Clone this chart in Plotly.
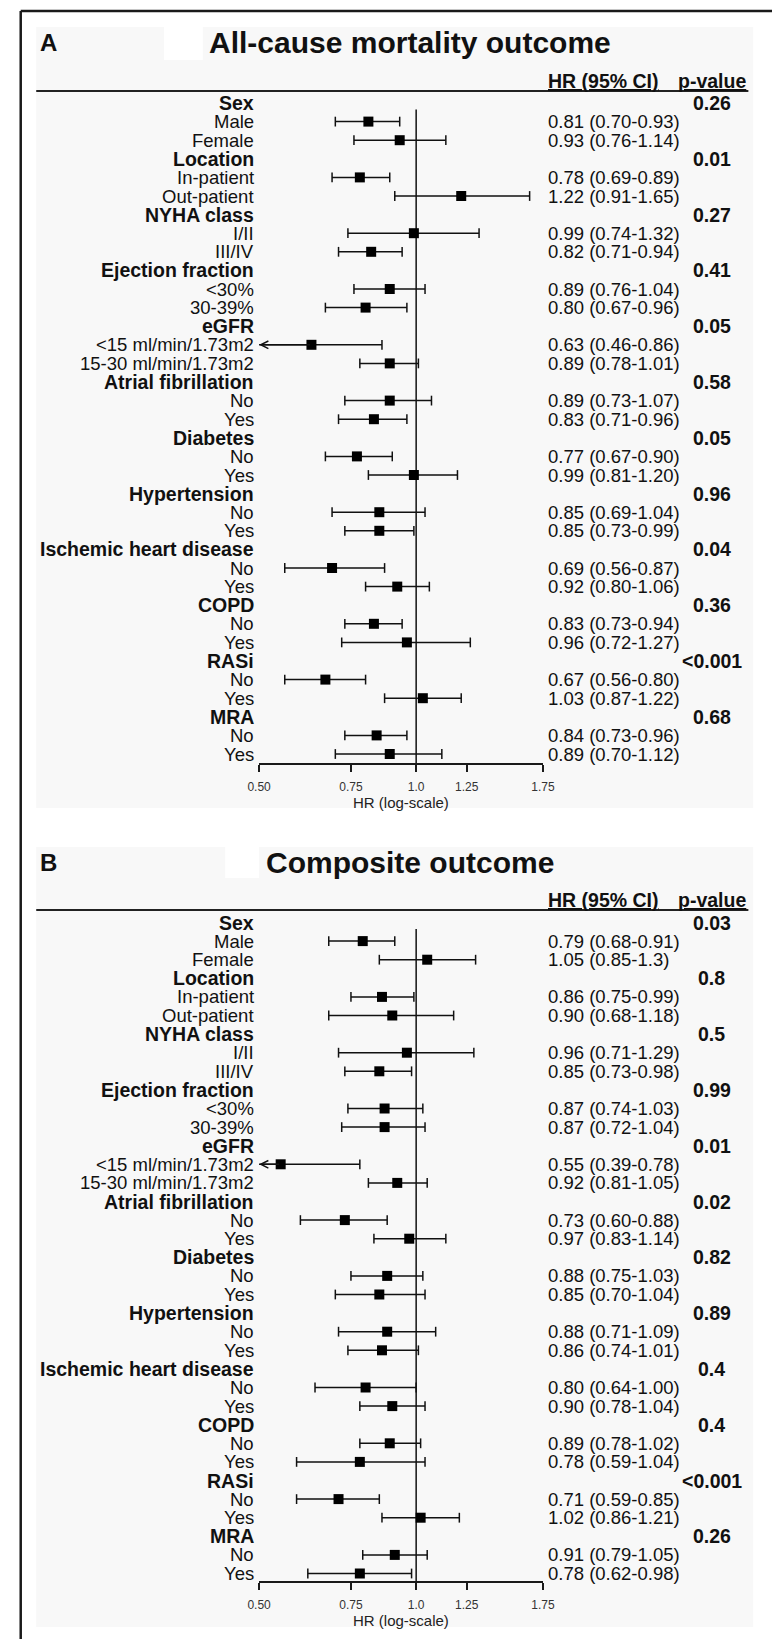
import numpy as np
import plotly.graph_objects as go

# ---------------- data ----------------
groups = ["Sex", "Location", "NYHA class", "Ejection fraction", "eGFR",
          "Atrial fibrillation", "Diabetes", "Hypertension",
          "Ischemic heart disease", "COPD", "RASi", "MRA"]
subgroups = [["Male", "Female"], ["In-patient", "Out-patient"], ["I/II", "III/IV"],
             ["<30%", "30-39%"], ["<15 ml/min/1.73m2", "15-30 ml/min/1.73m2"],
             ["No", "Yes"], ["No", "Yes"], ["No", "Yes"], ["No", "Yes"],
             ["No", "Yes"], ["No", "Yes"], ["No", "Yes"]]

# Panel A: all-cause mortality
hr_A = [0.81, 0.93, 0.78, 1.22, 0.99, 0.82, 0.89, 0.80, 0.63, 0.89, 0.89, 0.83,
        0.77, 0.99, 0.85, 0.85, 0.69, 0.92, 0.83, 0.96, 0.67, 1.03, 0.84, 0.89]
lo_A = [0.70, 0.76, 0.69, 0.91, 0.74, 0.71, 0.76, 0.67, 0.46, 0.78, 0.73, 0.71,
        0.67, 0.81, 0.69, 0.73, 0.56, 0.80, 0.73, 0.72, 0.56, 0.87, 0.73, 0.70]
hi_A = [0.93, 1.14, 0.89, 1.65, 1.32, 0.94, 1.04, 0.96, 0.86, 1.01, 1.07, 0.96,
        0.90, 1.20, 1.04, 0.99, 0.87, 1.06, 0.94, 1.27, 0.80, 1.22, 0.96, 1.12]
ci_text_A = ["0.81 (0.70-0.93)", "0.93 (0.76-1.14)", "0.78 (0.69-0.89)", "1.22 (0.91-1.65)",
             "0.99 (0.74-1.32)", "0.82 (0.71-0.94)", "0.89 (0.76-1.04)", "0.80 (0.67-0.96)",
             "0.63 (0.46-0.86)", "0.89 (0.78-1.01)", "0.89 (0.73-1.07)", "0.83 (0.71-0.96)",
             "0.77 (0.67-0.90)", "0.99 (0.81-1.20)", "0.85 (0.69-1.04)", "0.85 (0.73-0.99)",
             "0.69 (0.56-0.87)", "0.92 (0.80-1.06)", "0.83 (0.73-0.94)", "0.96 (0.72-1.27)",
             "0.67 (0.56-0.80)", "1.03 (0.87-1.22)", "0.84 (0.73-0.96)", "0.89 (0.70-1.12)"]
p_A = ["0.26", "0.01", "0.27", "0.41", "0.05", "0.58", "0.05", "0.96", "0.04", "0.36", "<0.001", "0.68"]

# Panel B: composite outcome
hr_B = [0.79, 1.05, 0.86, 0.90, 0.96, 0.85, 0.87, 0.87, 0.55, 0.92, 0.73, 0.97,
        0.88, 0.85, 0.88, 0.86, 0.80, 0.90, 0.89, 0.78, 0.71, 1.02, 0.91, 0.78]
lo_B = [0.68, 0.85, 0.75, 0.68, 0.71, 0.73, 0.74, 0.72, 0.39, 0.81, 0.60, 0.83,
        0.75, 0.70, 0.71, 0.74, 0.64, 0.78, 0.78, 0.59, 0.59, 0.86, 0.79, 0.62]
hi_B = [0.91, 1.30, 0.99, 1.18, 1.29, 0.98, 1.03, 1.04, 0.78, 1.05, 0.88, 1.14,
        1.03, 1.04, 1.09, 1.01, 1.00, 1.04, 1.02, 1.04, 0.85, 1.21, 1.05, 0.98]
ci_text_B = ["0.79 (0.68-0.91)", "1.05 (0.85-1.3)", "0.86 (0.75-0.99)", "0.90 (0.68-1.18)",
             "0.96 (0.71-1.29)", "0.85 (0.73-0.98)", "0.87 (0.74-1.03)", "0.87 (0.72-1.04)",
             "0.55 (0.39-0.78)", "0.92 (0.81-1.05)", "0.73 (0.60-0.88)", "0.97 (0.83-1.14)",
             "0.88 (0.75-1.03)", "0.85 (0.70-1.04)", "0.88 (0.71-1.09)", "0.86 (0.74-1.01)",
             "0.80 (0.64-1.00)", "0.90 (0.78-1.04)", "0.89 (0.78-1.02)", "0.78 (0.59-1.04)",
             "0.71 (0.59-0.85)", "1.02 (0.86-1.21)", "0.91 (0.79-1.05)", "0.78 (0.62-0.98)"]
p_B = ["0.03", "0.8", "0.5", "0.99", "0.01", "0.02", "0.82", "0.89", "0.4", "0.4", "<0.001", "0.26"]

x_tickvals = [0.50, 0.75, 1.0, 1.25, 1.75]
x_ticktext = ["0.50", "0.75", "1.0", "1.25", "1.75"]

# ---------------- layout constants ----------------
W, H = 772, 1639
FONT = "Liberation Sans, Arial, Helvetica, sans-serif"
X_MIN, X_MAX = 0.5, 1.75
X_LEFT_PX, X_RIGHT_PX = 255, 548
LABEL_X, CI_X, P_X = 252, 551, 722
PITCH = 18.6
BG = "#f8f8f8"
INK = "#111111"
BOLD_SIZE = 19.5
REG_SIZE = 18.5


def fx(p):
    return p / W


def fy(p):
    return 1 - p / H


panels = [
    dict(letter="A", title="All-cause mortality outcome", hr=hr_A, lo=lo_A, hi=hi_A,
         ci=ci_text_A, p=p_A, xa="x", ya="y", row0=103, axis=763, hline=91,
         title_y=43, bg=(27, 808), patch=(157, 197, 27, 60)),
    dict(letter="B", title="Composite outcome", hr=hr_B, lo=lo_B, hi=hi_B,
         ci=ci_text_B, p=p_B, xa="x2", ya="y2", row0=922.5, axis=1581, hline=910,
         title_y=862, bg=(847, 1627), patch=(220, 255, 847, 878)),
]

fig = go.Figure()
shapes = []
annotations = []

# outer frame (left and top edges)
shapes.append(dict(type="line", xref="paper", yref="paper", x0=fx(9), x1=1.02,
                   y0=fy(11), y1=fy(11), line=dict(color="#1a1a1a", width=2.5)))
shapes.append(dict(type="line", xref="paper", yref="paper", x0=fx(9), x1=fx(9),
                   y0=fy(11), y1=-0.01, line=dict(color="#1a1a1a", width=2.5)))

for k, pn in enumerate(panels):
    sub_rows = [3 * g + 1 + j for g in range(len(groups)) for j in range(2)]
    grp_rows = [3 * g for g in range(len(groups))]
    y_bottom = (pn["axis"] - pn["row0"]) / PITCH
    y_top = (pn["hline"] - pn["row0"]) / PITCH
    xa, ya = pn["xa"], pn["ya"]
    xref_name = "xaxis" if k == 0 else "xaxis2"
    yref_name = "yaxis" if k == 0 else "yaxis2"

    # background panels
    shapes.append(dict(type="rect", xref="paper", yref="paper", layer="below",
                       x0=fx(25), x1=fx(765), y0=fy(pn["bg"][1]), y1=fy(pn["bg"][0]),
                       fillcolor=BG, line=dict(width=0)))
    px0, px1, py0, py1 = pn["patch"]
    shapes.append(dict(type="rect", xref="paper", yref="paper", layer="below",
                       x0=fx(px0), x1=fx(px1), y0=fy(py1), y1=fy(py0),
                       fillcolor="white", line=dict(width=0)))
    # header rule
    shapes.append(dict(type="line", xref="paper", yref="paper",
                       x0=fx(25), x1=fx(760), y0=fy(pn["hline"]), y1=fy(pn["hline"]),
                       line=dict(color="#222222", width=1.8)))

    # reference line at HR = 1
    fig.add_trace(go.Scatter(x=[1.0, 1.0], y=[0.35, y_bottom], mode="lines",
                             line=dict(color=INK, width=1.5), xaxis=xa, yaxis=ya,
                             hoverinfo="skip", showlegend=False))

    # CI segments
    seg_x, seg_y = [], []
    cap_x, cap_y = [], []
    for r, l, h in zip(sub_rows, pn["lo"], pn["hi"]):
        seg_x += [max(l, X_MIN), min(h, X_MAX), None]
        seg_y += [r, r, None]
        if l >= X_MIN:
            cap_x.append(l)
            cap_y.append(r)
        if h <= X_MAX:
            cap_x.append(h)
            cap_y.append(r)
    fig.add_trace(go.Scatter(x=seg_x, y=seg_y, mode="lines",
                             line=dict(color=INK, width=1.5), xaxis=xa, yaxis=ya,
                             hoverinfo="skip", showlegend=False, cliponaxis=False))
    fig.add_trace(go.Scatter(x=cap_x, y=cap_y, mode="markers",
                             marker=dict(symbol="line-ns", size=7,
                                         line=dict(color=INK, width=1.5)),
                             xaxis=xa, yaxis=ya, hoverinfo="skip", showlegend=False,
                             cliponaxis=False))
    # arrows for CIs extending past the axis
    for r, l, hrv in zip(sub_rows, pn["lo"], pn["hr"]):
        if l < X_MIN:
            annotations.append(dict(x=np.log10(X_MIN), y=r, xref=xa, yref=ya,
                                    ax=np.log10(hrv), ay=r, axref=xa, ayref=ya,
                                    text="", showarrow=True, arrowhead=5,
                                    arrowsize=1.0, arrowwidth=1.5, arrowcolor=INK,
                                    standoff=0, startstandoff=0))
    # point estimates
    fig.add_trace(go.Scatter(x=pn["hr"], y=sub_rows, mode="markers",
                             marker=dict(symbol="square", size=10, color="black",
                                         line=dict(width=0)),
                             xaxis=xa, yaxis=ya, showlegend=False, cliponaxis=False,
                             hovertemplate="HR %{x}<extra></extra>"))

    # axes
    fig.update_layout(**{
        xref_name: dict(type="log", range=[np.log10(X_MIN), np.log10(X_MAX)],
                        domain=[fx(X_LEFT_PX), fx(X_RIGHT_PX)], anchor=ya,
                        showline=True, linecolor="#1a1a1a", linewidth=2,
                        ticks="outside", ticklen=7, tickwidth=1.5, tickcolor="#1a1a1a",
                        tickvals=x_tickvals, ticktext=x_ticktext,
                        tickfont=dict(family=FONT, size=12, color="#333333"),
                        ticklabelstandoff=5,
                        showgrid=False, zeroline=False, fixedrange=True),
        yref_name: dict(domain=[fy(pn["axis"]), fy(pn["hline"])],
                        range=[y_bottom, y_top], visible=False, anchor=xa,
                        fixedrange=True),
    })

    # titles
    annotations.append(dict(text="<b>" + pn["letter"] + "</b>", xref="paper", yref="paper",
                            x=fx(27), y=fy(pn["title_y"]), xanchor="left", yanchor="middle",
                            showarrow=False, font=dict(family=FONT, size=24, color=INK)))
    annotations.append(dict(text="<b>" + pn["title"] + "</b>", xref="paper", yref="paper",
                            x=fx(411), y=fy(pn["title_y"]), xanchor="center", yanchor="middle",
                            showarrow=False, font=dict(family=FONT, size=30, color=INK)))
    # column headers (paper coordinates, just above the header rule)
    hdr_y = fy(pn["hline"] - 10)
    annotations.append(dict(text="<b><u>HR (95% CI)</u></b>", xref="paper", yref="paper",
                            x=fx(CI_X), y=hdr_y, xanchor="left", yanchor="middle",
                            showarrow=False, font=dict(family=FONT, size=BOLD_SIZE, color=INK)))
    annotations.append(dict(text="<b><u>p-value</u></b>", xref="paper", yref="paper",
                            x=fx(P_X), y=hdr_y, xanchor="center", yanchor="middle",
                            showarrow=False, font=dict(family=FONT, size=BOLD_SIZE, color=INK)))

    # row labels, CI text, p-values
    for g, name in enumerate(groups):
        r = grp_rows[g]
        annotations.append(dict(text="<b>" + name + "</b>", xref="paper", yref=ya,
                                x=fx(LABEL_X), y=r, xanchor="right", yanchor="middle",
                                showarrow=False,
                                font=dict(family=FONT, size=BOLD_SIZE, color=INK)))
        annotations.append(dict(text="<b>" + pn["p"][g] + "</b>", xref="paper", yref=ya,
                                x=fx(P_X), y=r, xanchor="center", yanchor="middle",
                                showarrow=False,
                                font=dict(family=FONT, size=BOLD_SIZE, color=INK)))
        for j in range(2):
            rr = r + 1 + j
            annotations.append(dict(text=subgroups[g][j], xref="paper", yref=ya,
                                    x=fx(LABEL_X), y=rr, xanchor="right", yanchor="middle",
                                    showarrow=False,
                                    font=dict(family=FONT, size=REG_SIZE, color=INK)))
            annotations.append(dict(text=pn["ci"][2 * g + j], xref="paper", yref=ya,
                                    x=fx(CI_X), y=rr, xanchor="left", yanchor="middle",
                                    showarrow=False,
                                    font=dict(family=FONT, size=REG_SIZE, color=INK)))

    # x-axis title
    annotations.append(dict(text="HR (log-scale)", xref="paper", yref="paper",
                            x=fx((X_LEFT_PX + X_RIGHT_PX) / 2), y=fy(pn["axis"] + 39),
                            xanchor="center", yanchor="middle", showarrow=False,
                            font=dict(family=FONT, size=15, color="#222222")))

fig.update_layout(width=W, height=H, margin=dict(l=0, r=0, t=0, b=0, pad=0),
                  paper_bgcolor="white", plot_bgcolor="rgba(0,0,0,0)",
                  showlegend=False, shapes=shapes, annotations=annotations,
                  font=dict(family=FONT, color=INK))

fig.write_html("out.html", include_plotlyjs=True, config={"displayModeBar": False})
